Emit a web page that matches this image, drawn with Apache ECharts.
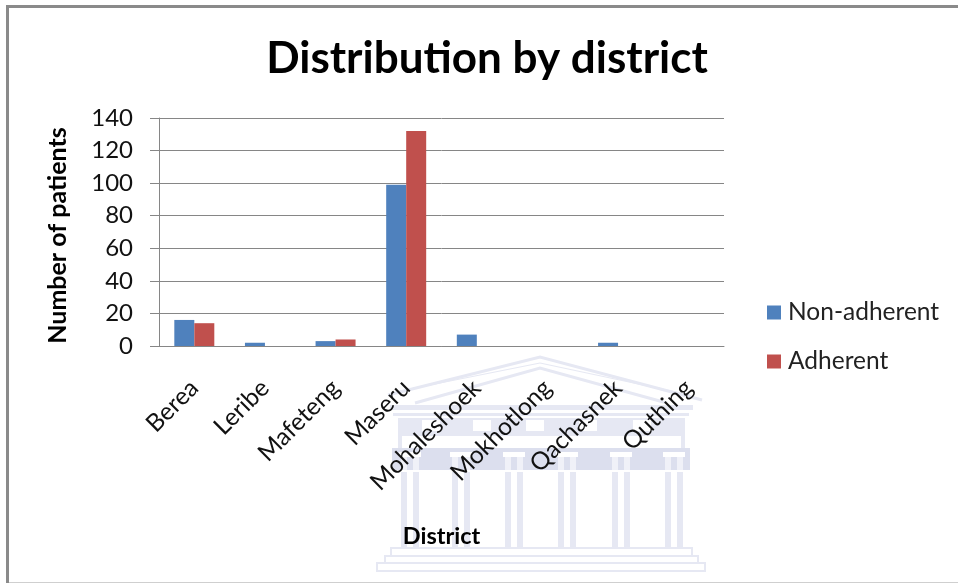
<!DOCTYPE html>
<html><head><meta charset="utf-8">
<style>html,body{margin:0;padding:0;background:#fff}#c{width:958px;height:583px}</style>
<script src="https://cdn.jsdelivr.net/npm/echarts@6/dist/echarts.min.js"></script></head>
<body><div id="c"></div>
<script>
const categories=['Berea','Leribe','Mafeteng','Maseru','Mohaleshoek','Mokhotlong','Qachasnek','Quthing'];
const nonAdherent=[16,2,3,99,7,0,2,0];
const adherent=[14,0,4,132,0,0,0,0];
const font='Lato,"Open Sans",sans-serif';

// Decoration only: the faint building watermark behind the chart, and the picture frame
const wm='#e6e8f3', wmDark='#dcdfee', wmPale='#f0f1f8';
const bgZ=-5;
function box(x,y,w,h,fill,stroke){
  return {type:'rect',z:bgZ,silent:true,shape:{x,y,width:w,height:h},
    style:{fill:fill||'none',stroke:stroke||'none',lineWidth:stroke?2:0}};
}
function roof(points,width){
  return {type:'polyline',z:bgZ,silent:true,shape:{points},style:{fill:'none',stroke:wm,lineWidth:width}};
}
const watermark=[
  box(377,563,328,8,null,wm), box(385,556,313,7,null,wm), box(391,548,301,8,null,wm),
  box(392,448,298,22,wmDark), box(398,418,287,15,wm),
  box(390,405,303,5,wm), box(393,413,296,3,wm), box(398,433,287,3,wm), box(398,436,4,12,wm), box(681,436,4,12,wm),
  roof([[388,395],[540,357],[702,400]],3), roof([[415,403],[540,368],[667,403]],3),
  roof([[400,391],[540,363],[690,395]],1)
];
[410,461,514,567,621,674].forEach(function(cx){
  watermark.push(box(cx-9,472,6,75,wm), box(cx+3,472,6,75,wm));
  watermark.push(box(cx-11,452,22,5,'#ffffff'));
  watermark.push(box(cx-9,457,6,13,wmPale), box(cx+3,457,6,13,wmPale));
  watermark.push(box(cx+12,420,18,11,'#ffffff'));
});
function bar(x,y,w,h,fill){
  return {type:'rect',silent:true,z:50,shape:{x,y,width:w,height:h},style:{fill}};
}
const frame=[
  bar(6,5,952,3,'#8a8a8a'),
  bar(6,5,3,578,'#8a8a8a'),
  bar(9,582,949,1,'#cfcfcf')
];

const chart=echarts.init(document.getElementById('c'),null,{renderer:'canvas'});
chart.setOption({
 animation:false,backgroundColor:'#fff',
 title:{text:'Distribution by district',left:482,top:32,textAlign:'center',textStyle:{fontFamily:font,fontSize:44,fontWeight:'bold',color:'#000'}},
 legend:{orient:'vertical',left:762,top:295,itemWidth:14,itemHeight:14,itemGap:24,icon:'rect',
  textStyle:{fontFamily:font,fontSize:24.5,color:'#222',padding:[0,0,0,2]},data:['Non-adherent','Adherent']},
 grid:{left:159,top:118,width:565,height:228},
 xAxis:{type:'category',data:categories,name:'District',nameLocation:'middle',nameGap:178,
  nameTextStyle:{fontFamily:font,fontSize:23.5,fontWeight:'bold',color:'#000'},
  axisTick:{show:false},
  axisLine:{lineStyle:{color:'#868686'}},
  axisLabel:{rotate:45,fontFamily:font,fontSize:24.5,color:'#111',interval:0,margin:38}},
 yAxis:{type:'value',min:0,max:140,interval:20,name:'Number of patients',nameLocation:'middle',nameGap:89,
  nameTextStyle:{fontFamily:font,fontSize:25,fontWeight:'bold',color:'#000',padding:[0,7,0,0]},
  axisLine:{show:true,lineStyle:{color:'#868686'}},axisTick:{show:true,length:9,lineStyle:{color:'#868686'}},
  splitLine:{lineStyle:{color:'#868686'}},
  axisLabel:{fontFamily:font,fontSize:24,color:'#111',margin:26}},
 series:[
  {name:'Non-adherent',type:'bar',data:nonAdherent,barWidth:20,barGap:'0%',itemStyle:{color:'#4f81bd'}},
  {name:'Adherent',type:'bar',data:adherent,barWidth:20,barGap:'0%',itemStyle:{color:'#c0504d'}}
 ],
 graphic:watermark.concat(frame)
});
</script></body></html>
